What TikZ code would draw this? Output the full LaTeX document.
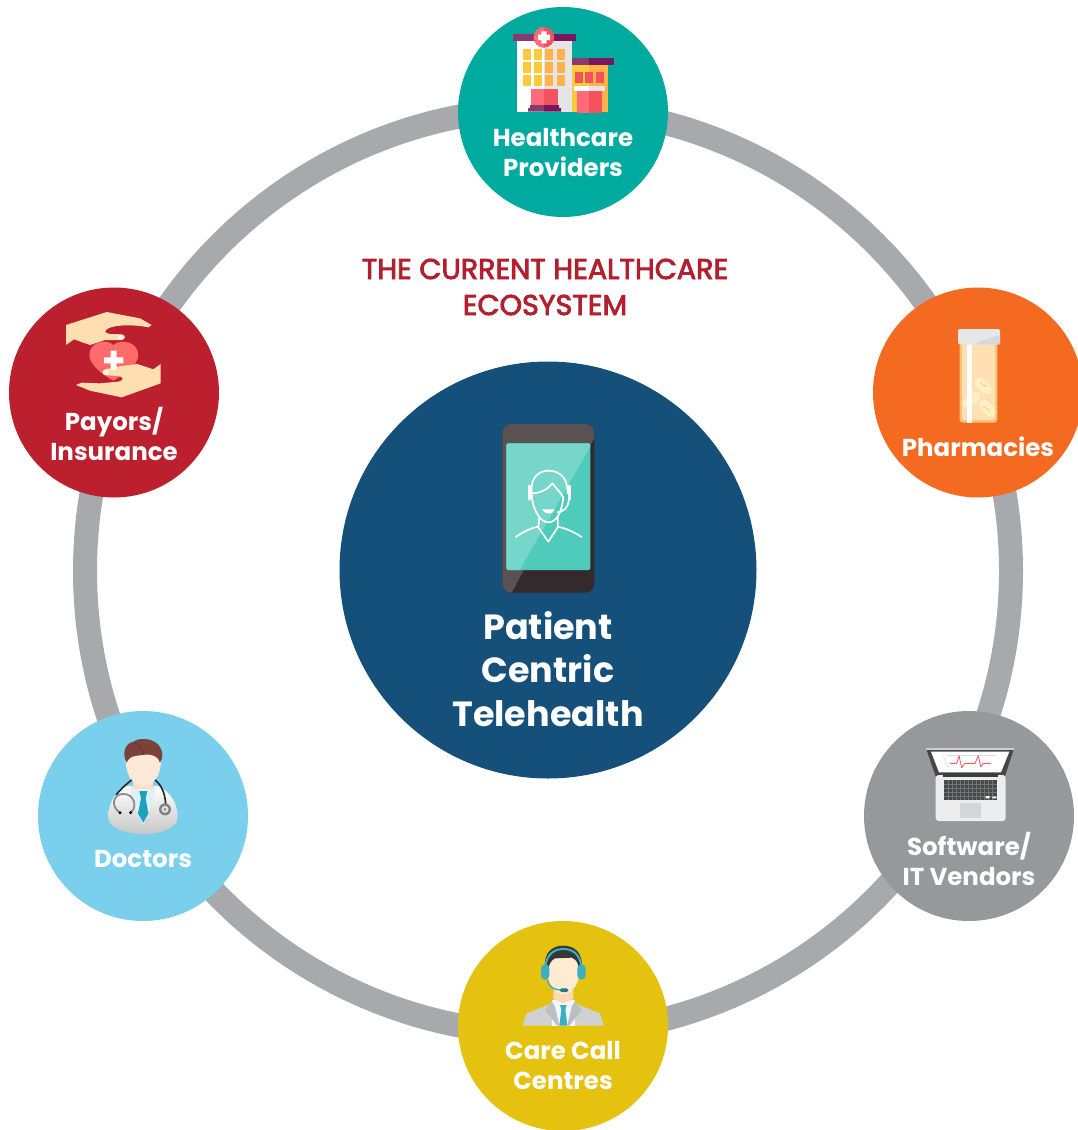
\documentclass[tikz,border=0pt]{standalone}
\usepackage{fontspec}
\setmainfont{Poppins}
\newfontfamily\titlefont[FakeBold=3]{Poppins}
\definecolor{ringgray}{HTML}{A7A9AC}
\definecolor{cTeal}{HTML}{00AA9E}
\definecolor{cOrange}{HTML}{F46A21}
\definecolor{cRed}{HTML}{BC202E}
\definecolor{cSky}{HTML}{7AD0EC}
\definecolor{cGray}{HTML}{97989B}
\definecolor{cYellow}{HTML}{E5C210}
\definecolor{cNavy}{HTML}{14507A}
\definecolor{cTitle}{HTML}{B2202F}
\definecolor{wYel}{HTML}{FFC93C}
\definecolor{wOrg}{HTML}{FFB248}
\definecolor{pinkL}{HTML}{FF6B7B}
\definecolor{pinkD}{HTML}{F4525F}
\definecolor{purL}{HTML}{8A3A6E}
\definecolor{purD}{HTML}{7A1560}
\definecolor{skin}{HTML}{FFDEB0}
\definecolor{tealH}{HTML}{3BAEC0}
\definecolor{pillY}{HTML}{FFEFC4}
\tikzset{
  hub/.style={circle,inner sep=0pt,minimum size=210pt,draw=none},
  lab/.style={text=white,align=center,font=\fontsize{24.5}{30}\selectfont\bfseries,inner sep=0pt},
  zoomed/.style={x=0.33333pt,y=-0.33333pt},
  pers/.style={draw=white,line width=1.7pt,line cap=round,line join=round},
}
\begin{document}
\begin{tikzpicture}[x=1pt,y=-1pt]
\useasboundingbox (0,0) rectangle (1078,1130);
\clip (0,0) rectangle (1078,1130);
\fill[white] (0,0) rectangle (1078,1130);
\draw[ringgray,line width=24pt] (548,571) circle[radius=463pt];
\node[hub,fill=cTeal] (top) at (563,112) {};
\node[hub,fill=cOrange] (pharm) at (978,392.5) {};
\node[hub,fill=cRed] (payor) at (114,392.5) {};
\node[hub,fill=cSky] (doc) at (143,816) {};
\node[hub,fill=cGray] (soft) at (969,816) {};
\node[hub,fill=cYellow] (care) at (563,1026) {};
\node[circle,inner sep=0pt,minimum size=417pt,fill=cNavy] (mid) at (548,570) {};
% ---- hospital
\begin{scope}[shift={(490,10)},zoomed]
\fill[white] (81,93) rectangle (163,305);
\fill[black!10] (163,93) rectangle (246,305);
\fill[purL] (69,72) rectangle (163,93);
\fill[purD] (163,72) rectangle (258,93);
\foreach \xx/\cc in {99/wYel,132/wYel,165/wOrg,201/wOrg}
  \foreach \yy in {117,156,195}
    \fill[\cc] (\xx,\yy) rectangle ++(24,33);
\fill[pinkL] (123,237) rectangle (162,285);
\fill[pinkD] (162,237) rectangle (204,285);
\fill[purL] (120,285) rectangle (162,294) (114,294) rectangle (162,305);
\fill[purD] (162,285) rectangle (207,294) (162,294) rectangle (213,305);
\fill[pinkD] (162,82) circle[radius=10.3pt];
\fill[pinkL] (162,51) arc[start angle=90,end angle=270,radius=10.3pt] -- cycle;
\fill[white] (154,64) rectangle (170,100) (144,74) rectangle (180,90);
\fill[wYel] (246,165) rectangle (297,305);
\fill[wOrg] (297,165) rectangle (354,305);
\fill[purL] (246,144) rectangle (297,165);
\fill[purD] (297,144) rectangle (372,165);
\foreach \xx in {255,285,318} \fill[pinkD] (\xx,186) rectangle ++(24,33);
\fill[white] (252,228) rectangle (297,243);
\fill[black!10] (297,228) rectangle (345,243);
\fill[pinkL] (261,243) rectangle (297,309);
\fill[pinkD] (297,243) rectangle (336,309);
\end{scope}
% ---- phone
\begin{scope}[shift={(480,410)},zoomed]
\fill[rounded corners=9pt,color={rgb,255:red,52;green,42;blue,45}] (67,42) rectangle (343,548);
\begin{scope}
\clip[rounded corners=9pt] (67,42) rectangle (343,548);
\fill[color={rgb,255:red,90;green,81;blue,83}] (60,30) -- (350,30) -- (345,80) -- (95,548) -- (60,548) -- cycle;
\end{scope}
\fill[rounded corners=2pt,color={rgb,255:red,79;green,203;blue,187}] (79,100) rectangle (331,480);
\begin{scope}
\clip[rounded corners=2pt] (79,100) rectangle (331,480);
\fill[color={rgb,255:red,118;green,214;blue,202}] (70,90) -- (335,90) -- (335,103) -- (119,480) -- (70,490) -- cycle;
\end{scope}
\draw[pers] (155,250) .. controls (150,205) and (175,182) .. (205,182) .. controls (240,182) and (265,205) .. (262,250);
\draw[pers,line width=3pt] (147,228) -- (147,268);
\draw[pers,line width=3pt] (268,228) -- (268,268);
\draw[pers] (155,250) .. controls (185,250) and (205,235) .. (217,220) .. controls (228,235) and (240,245) .. (250,262);
\draw[pers] (155,255) .. controls (160,310) and (185,337) .. (205,337) .. controls (228,337) and (245,310) .. (250,262);
\draw[pers] (266,270) .. controls (265,295) and (250,305) .. (232,307);
\fill[white] (186,298) -- (224,298) .. controls (220,315) and (195,315) .. (186,298) -- cycle;
\draw[pers] (178,322) -- (175,352) -- (205,395) -- (233,352) -- (233,322);
\draw[pers] (107,381) .. controls (130,365) and (150,355) .. (175,350);
\draw[pers] (233,350) .. controls (258,355) and (280,365) .. (305,381);
\end{scope}
% ---- hands
\begin{scope}[shift={(50,300)},zoomed]
\fill[color={rgb,255:red,255;green,107;blue,107}] (190,135) .. controls (170,115) and (118,125) .. (118,165) .. controls (118,195) and (160,225) .. (190,242) .. controls (220,225) and (265,195) .. (265,165) .. controls (265,125) and (210,115) .. (190,135) -- cycle;
\fill[skin] (48,75) -- (170,36) -- (270,55) -- (305,75) -- (295,82) .. controls (265,75) and (200,72) .. (175,85) .. controls (160,92) and (165,100) .. (180,102) -- (215,103) .. controls (228,105) and (228,118) .. (215,120) -- (165,120) -- (120,135) -- (72,118) -- (48,135) -- cycle;
\fill[white,opacity=.7] (212,112) circle[radius=2.8pt];
\fill[skin] (332,192) -- (310,208) -- (262,192) -- (215,198) -- (165,208) .. controls (153,212) and (155,226) .. (170,226) -- (205,228) .. controls (222,230) and (222,242) .. (205,245) -- (150,250) -- (95,248) -- (78,255) -- (120,272) -- (215,292) -- (332,250) -- cycle;
\fill[white,opacity=.7] (168,217) circle[radius=2.8pt];
\fill[white] (162,172) rectangle (220,190) (182,152) rectangle (200,210);
\end{scope}
% ---- doctor
\begin{scope}[shift={(90,730)},zoomed]
\shade[top color=white,bottom color=black!22] (110,168) .. controls (75,185) and (55,220) .. (55,260) .. controls (55,295) and (110,312) .. (160,312) .. controls (210,312) and (263,295) .. (263,260) .. controls (263,220) and (240,185) .. (205,168) -- cycle;
\fill[color={rgb,255:red,222;green,240;blue,248}] (120,165) -- (160,185) -- (197,165) -- (190,210) -- (160,285) -- (125,210) -- cycle;
\fill[color={rgb,255:red,252;green,222;blue,200}] (130,150) rectangle (190,178);
\fill[color={rgb,255:red,30;green,160;blue,192}] (148,183) -- (172,183) -- (167,205) -- (175,250) -- (160,278) -- (144,250) -- (153,205) -- cycle;
\fill[color={rgb,255:red,254;green,232;blue,216}] (160,168) .. controls (125,168) and (105,130) .. (107,80) .. controls (110,40) and (210,40) .. (213,80) .. controls (215,130) and (195,168) .. (160,168) -- cycle;
\fill[color={rgb,255:red,122;green,66;blue,56}] (110,98) .. controls (95,70) and (105,40) .. (130,35) .. controls (150,20) and (200,25) .. (212,55) .. controls (220,70) and (218,85) .. (210,98) .. controls (205,80) and (190,72) .. (165,74) .. controls (150,78) and (120,72) .. (110,98) -- cycle;
\draw[color={rgb,255:red,92;green,46;blue,38},line width=.5pt] (135,38) .. controls (150,45) and (158,58) .. (162,74);
\draw[black!85,line width=1.6pt] (125,150) .. controls (105,165) and (90,180) .. (78,195);
\draw[black!85,line width=1.6pt] (195,150) .. controls (215,165) and (225,190) .. (227,222);
\draw[black!45,line width=1.8pt] (90,248) .. controls (60,230) and (70,190) .. (100,192) .. controls (130,190) and (145,230) .. (122,248);
\fill[black] (90,248) circle[radius=1.6pt] (122,248) circle[radius=1.6pt];
\fill[black!50] (225,238) circle[radius=6pt];
\fill[black!12] (225,238) circle[radius=3.6pt];
\fill[black!45] (225,238) circle[radius=1.5pt];
\end{scope}
% ---- call centre agent
\begin{scope}[shift={(510,935)},zoomed]
\fill[color={rgb,255:red,208;green,209;blue,209}] (38,272) -- (50,235) -- (125,205) -- (195,205) -- (270,235) -- (282,272) -- cycle;
\fill[color={rgb,255:red,240;green,247;blue,250}] (125,195) -- (195,195) -- (195,272) -- (125,272) -- cycle;
\fill[color={rgb,255:red,188;green,190;blue,192}] (125,198) -- (105,225) -- (142,272) -- (148,272) -- (135,215) -- cycle;
\fill[color={rgb,255:red,188;green,190;blue,192}] (195,198) -- (215,225) -- (178,272) -- (172,272) -- (185,215) -- cycle;
\fill[color={rgb,255:red,250;green,217;blue,176}] (130,150) -- (190,150) -- (190,192) -- (160,205) -- (130,192) -- cycle;
\fill[tealH] (150,210) -- (170,210) -- (166,224) -- (172,272) -- (148,272) -- (154,224) -- cycle;
\fill[color={rgb,255:red,255;green,235;blue,208}] (108,60) .. controls (104,140) and (130,178) .. (160,178) .. controls (190,178) and (216,140) .. (212,60) -- cycle;
\fill[color={rgb,255:red,55;green,55;blue,55}] (105,98) .. controls (100,50) and (130,32) .. (160,32) .. controls (190,32) and (220,50) .. (215,98) -- (205,98) .. controls (205,80) and (195,72) .. (185,68) -- (135,70) .. controls (125,75) and (118,85) .. (116,98) -- cycle;
\draw[tealH,line width=2pt] (106,95) .. controls (110,55) and (135,42) .. (160,42) .. controls (185,42) and (210,55) .. (214,95);
\fill[tealH,rounded corners=4pt] (93,88) rectangle (118,134) (202,88) rectangle (227,134);
\draw[tealH,line width=1.4pt] (112,134) .. controls (118,160) and (135,165) .. (155,165);
\fill[color={rgb,255:red,35;green,120;blue,135},rounded corners=1.5pt] (150,160) rectangle (175,171);
\end{scope}
% ---- laptop
\begin{scope}[shift={(915,735)},zoomed]
\fill[color={rgb,255:red,70;green,70;blue,72}] (33,40) -- (297,40) -- (270,124) -- (62,124) -- cycle;
\fill[color={rgb,255:red,205;green,207;blue,209}] (33,38) rectangle (297,44);
\fill[white] (48,50) -- (283,50) -- (258,112) -- (72,112) -- cycle;
\draw[black!12,line width=.5pt] (80,58) -- (105,105);
\draw[black!12,line width=.5pt] (95,60) -- (245,60);
\draw[color={rgb,255:red,232;green,101;blue,107},line width=.9pt,line join=round] (105,85) -- (125,85) -- (132,62) -- (140,98) -- (150,85) -- (180,85) -- (190,62) -- (197,95) -- (205,85) -- (228,85);
\fill[color={rgb,255:red,237;green,237;blue,237},rounded corners=3pt] (62,120) rectangle (272,258);
\fill[color={rgb,255:red,60;green,60;blue,62}] (85,115) rectangle (250,125);
\fill[color={rgb,255:red,72;green,73;blue,75}] (87,135) rectangle (246,195);
\foreach \yy in {147,159,171,183} \draw[black!55,line width=.35pt] (87,\yy) -- (246,\yy);
\foreach \xx in {99,111,123,135,147,159,171,183,195,207,219,231} \draw[black!55,line width=.35pt] (\xx,135) -- (\xx,195);
\fill[white] (212,183) rectangle (224,190) (232,185) rectangle (244,190);
\fill[color={rgb,255:red,213;green,214;blue,215}] (135,204) rectangle (197,248);
\end{scope}
% ---- pill bottle
\begin{scope}[shift={(940,320)},zoomed]
\fill[color={rgb,255:red,255;green,195;blue,120},rounded corners=3pt] (59,70) rectangle (172,308);
\fill[color={rgb,255:red,255;green,224;blue,181},rounded corners=2pt] (66,72) rectangle (165,300);
\fill[pillY,rotate around={-40:(130,198)},rounded corners=5pt] (100,183) rectangle (160,213);
\fill[pillY,rotate around={-50:(143,265)},rounded corners=5pt] (113,250) rectangle (173,280);
\fill[pillY,rotate around={40:(95,240)},rounded corners=5pt] (65,225) rectangle (125,255);
\draw[color={rgb,255:red,250;green,200;blue,90},line width=.7pt] (120,188) -- (140,200);
\draw[color={rgb,255:red,250;green,200;blue,90},line width=.7pt] (127,258) -- (150,272);
\fill[white] (80,72) rectangle (97,308);
\fill[color={rgb,255:red,229;green,232;blue,232},rounded corners=2pt] (54,27) rectangle (180,74);
\fill[color={rgb,255:red,214;green,217;blue,218},rounded corners=2pt] (100,74) .. controls (130,60) and (160,50) .. (180,45) -- (180,74) -- cycle;
\end{scope}
% ---- text
\node[lab] (tTop) at (563,152.5) {Healthcare\\Providers};
\node[lab] (tPharm) at (978,447) {Pharmacies};
\node[lab] (tPayor) at (114,434) {Payors/\\Insurance};
\node[lab] (tDoc) at (143,859) {Doctors};
\node[lab] (tSoft) at (969,859) {Software/\\IT Vendors};
\node[lab] (tCare) at (563,1066) {Care Call\\Centres};
\node[lab,font=\fontsize{35}{43.5}\selectfont\bfseries] (tMid) at (548,669) {Patient\\Centric\\Telehealth};
\node[inner sep=0pt,align=center,text=cTitle,font=\titlefont\fontsize{28.6}{36}\selectfont] (title) at (545,287) {THE CURRENT HEALTHCARE\\ECOSYSTEM};
\end{tikzpicture}
\end{document}
